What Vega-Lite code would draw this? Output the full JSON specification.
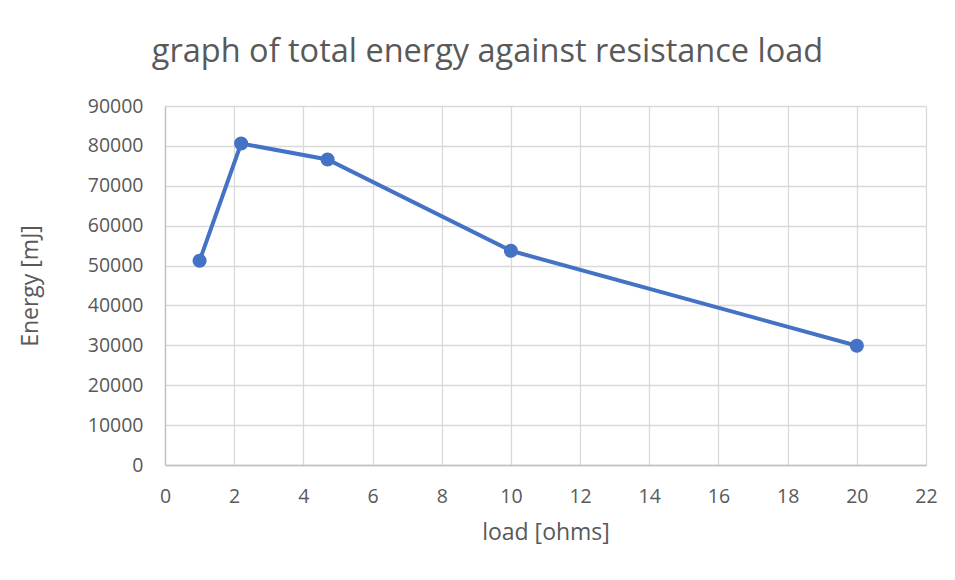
{
  "$schema": "https://vega.github.io/schema/vega-lite/v6.json",
  "width": 761,
  "height": 359,
  "autosize": {"type": "none"},
  "padding": {"left": 165, "top": 106, "right": 29, "bottom": 115},
  "background": "white",
  "title": {
    "text": "graph of total energy against resistance load",
    "anchor": "middle",
    "dx": -58,
    "offset": 28,
    "fontSize": 32.5,
    "font": "Open Sans",
    "fontWeight": "normal",
    "color": "#595959"
  },
  "data": {
    "values": [
      {"load": 1, "energy": 51200},
      {"load": 2.2, "energy": 80600},
      {"load": 4.7, "energy": 76600},
      {"load": 10, "energy": 53700},
      {"load": 20, "energy": 29900}
    ]
  },
  "config": {
    "view": {"stroke": null},
    "axis": {
      "labelFont": "Open Sans",
      "labelFontSize": 19.5,
      "labelColor": "#595959",
      "labelFlush": false,
      "titleFont": "Open Sans",
      "titleFontSize": 23,
      "titleFontWeight": "normal",
      "titleColor": "#595959",
      "gridColor": "#d9d9d9",
      "gridWidth": 1.3,
      "domainColor": "#bfbfbf",
      "domainWidth": 1.3,
      "ticks": false
    }
  },
  "layer": [
    {
      "mark": {"type": "line", "color": "#4472C4", "strokeWidth": 4, "point": {"filled": true, "size": 200, "color": "#4472C4", "opacity": 1}},
      "encoding": {
        "x": {
          "field": "load", "type": "quantitative",
          "scale": {"domain": [0, 22], "nice": false},
          "axis": {"values": [0,2,4,6,8,10,12,14,16,18,20,22], "title": "load [ohms]", "labelPadding": 22, "titlePadding": 16}
        },
        "y": {
          "field": "energy", "type": "quantitative",
          "scale": {"domain": [0, 90000], "nice": false},
          "axis": {"values": [0,10000,20000,30000,40000,50000,60000,70000,80000,90000], "format": "d", "title": "Energy [mJ]", "labelPadding": 22, "titlePadding": 45}
        }
      }
    }
  ]
}
